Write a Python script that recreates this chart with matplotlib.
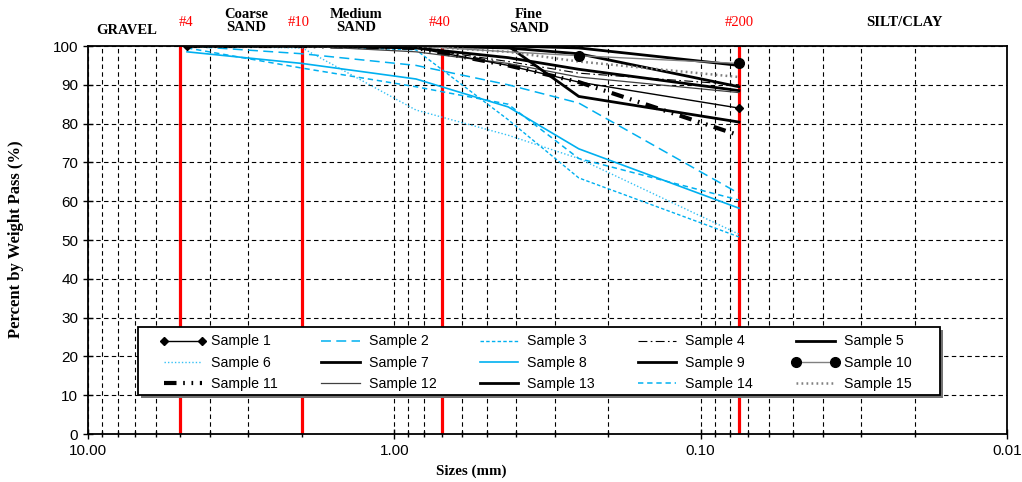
import numpy as np
import matplotlib
matplotlib.use("Agg")
import matplotlib.pyplot as plt
from matplotlib.lines import Line2D
from matplotlib.patches import Rectangle
from matplotlib.ticker import FixedLocator, LogLocator, NullFormatter, FuncFormatter

# sieve sizes (mm) used for every sample
sizes = [4.75, 2.0, 0.85, 0.425, 0.25, 0.075]

# percent passing
s1 = [100, 100, 99.5, 95.0, 90.7, 84.0]
s2 = [100, 98.0, 95.0, 90.0, 85.3, 62.0]
s3 = [100, 100, 99.0, 81.0, 66.0, 50.8]
s4 = [100, 100, 99.5, 96.0, 93.0, 90.0]
s5 = [100, 100, 100, 100, 99.5, 95.0]
s6 = [100, 99.5, 83.5, 77.0, 71.0, 51.5]
s7 = [100, 100, 99.5, 97.0, 94.0, 88.5]
s8 = [98.5, 95.5, 91.5, 84.3, 73.5, 58.2]
s9 = [100, 100, 100, 99.5, 98.0, 89.5]
s10 = [100, 100, 100, 98.5, 97.5, 95.5]
s11 = [100, 100, 99.5, 95.0, 90.7, 77.0]
s12 = [100, 100, 98.5, 95.5, 92.0, 88.0]
s13 = [100, 100, 100, 100, 87.0, 80.4]
s14 = [99.5, 94.3, 89.5, 85.0, 71.0, 60.3]
s15 = [100, 100, 100, 98.5, 96.0, 92.0]

# sieve marker lines (as drawn) and their labels
sieve_pos = [5.0, 2.0, 0.7, 0.075]
sieve_lab = ["#4", "#10", "#40", "#200"]

BLUE = "#00B0F0"

fig = plt.figure(figsize=(10.22, 4.82), dpi=100)
ax = fig.add_axes([88 / 1022, 1 - 434 / 482, (1007 - 88) / 1022, (434 - 46) / 482])

ax.set_xscale("log")
ax.set_xlim(10, 0.01)
ax.set_ylim(0, 100)

# grid
ax.xaxis.set_major_locator(FixedLocator([10, 1, 0.1, 0.01]))
ax.xaxis.set_minor_locator(LogLocator(base=10, subs=np.arange(2, 10)))
ax.xaxis.set_minor_formatter(NullFormatter())
ax.xaxis.set_major_formatter(FuncFormatter(lambda v, p: f"{v:.2f}"))
ax.set_yticks(np.arange(0, 101, 10))
ax.grid(True, which="both", axis="x", color="black", ls=(0, (4, 3)), lw=0.8)
ax.grid(True, which="major", axis="y", color="black", ls=(0, (4, 3)), lw=0.8)
ax.set_axisbelow(True)

for s in ax.spines.values():
    s.set_linewidth(1.3)

ax.tick_params(axis="both", which="major", direction="inout", length=7, width=1, labelsize=11)
ax.tick_params(axis="x", which="minor", direction="inout", length=5, width=1)
for lab in ax.get_xticklabels() + ax.get_yticklabels():
    lab.set_family("Liberation Sans")

# red sieve lines
for p in sieve_pos:
    ax.axvline(p, color="red", lw=2.3, zorder=1.5)

handles = {}
# blue samples
handles[2], = ax.plot(sizes, s2, color=BLUE, lw=1.1, ls=(0, (6.5, 3.5)))
handles[3], = ax.plot(sizes, s3, color=BLUE, lw=1.0, ls=(0, (2.5, 1.6)))
handles[6], = ax.plot(sizes, s6, color="#33C0F5", lw=1.0, ls=(0, (1, 1.5)))
handles[8], = ax.plot(sizes, s8, color=BLUE, lw=1.2)
handles[14], = ax.plot(sizes, s14, color=BLUE, lw=1.1, ls=(0, (3.5, 2.5)))

# black / grey samples
handles[4], = ax.plot(sizes, s4, color="black", lw=0.8, ls=(0, (8, 3, 1.5, 3)))
handles[5], = ax.plot(sizes, s5, color="black", lw=2.0)
handles[7], = ax.plot(sizes, s7, color="black", lw=2.0)
handles[9], = ax.plot(sizes, s9, color="black", lw=2.0)
handles[11], = ax.plot(sizes, s11, color="black", lw=3.0, ls=(0, (3, 1.6, 0.4, 1.6, 0.4, 1.6)))
handles[12], = ax.plot(sizes, s12, color="#404040", lw=0.9)
handles[13], = ax.plot(sizes, s13, color="black", lw=2.0)
handles[15], = ax.plot(sizes, s15, color="#808080", lw=1.8, ls=(0, (0.7, 1.3)))

ax.plot(sizes, s1, color="black", lw=1.0)
ax.plot(sizes[::5], s1[::5], ls="none", marker="D", ms=4.5, color="black")
handles[1] = Line2D([], [], color="black", lw=1.0, marker="D", ms=4.5)

ax.plot(sizes, s10, color="#808080", lw=1.0)
ax.plot(sizes[4:], s10[4:], ls="none", marker="o", ms=7, color="black")
handles[10] = Line2D([], [], color="#808080", lw=1.0, marker="o", ms=7,
                     markerfacecolor="black", markeredgecolor="black")

# legend box drawn by hand (wider side padding than matplotlib gives)
box = dict(transform=fig.transFigure, clip_on=False)
ax.add_patch(Rectangle((141 / 1022, 1 - 398 / 482), 802 / 1022, 68 / 482,
                       facecolor="0.45", edgecolor="none", zorder=4.8, **box))
ax.add_patch(Rectangle((138 / 1022, 1 - 395 / 482), 802 / 1022, 68 / 482,
                       facecolor="white", edgecolor="black", lw=1.3, zorder=4.9, **box))

order = [1, 6, 11, 2, 7, 12, 3, 8, 13, 4, 9, 14, 5, 10, 15]
leg = ax.legend([handles[i] for i in order], [f"Sample {i}" for i in order],
                ncol=5, numpoints=2, loc="upper left",
                bbox_to_anchor=(146 / 1022, 1 - 321 / 482), bbox_transform=fig.transFigure,
                prop={"family": "Liberation Sans", "size": 10.2},
                handlelength=3.3, handletextpad=0.35, columnspacing=2.75,
                labelspacing=0.5, borderpad=0.45, frameon=False)
leg.set_zorder(5)

# header texts
hdr = dict(family="Liberation Serif", weight="bold", size=10.5, ha="center",
           va="center", linespacing=1.05)
red = dict(family="Liberation Serif", size=10.5, color="red", ha="center", va="center")


def fx(px):
    return px / 1022


def fy(py):
    return 1 - py / 482


fig.text(fx(127), fy(30), "GRAVEL", **hdr)
fig.text(fx(246), fy(21), "Coarse\nSAND", **hdr)
fig.text(fx(356), fy(21), "Medium\nSAND", **hdr)
fig.text(fx(529), fy(21.5), "Fine\nSAND", **hdr)
fig.text(fx(904), fy(23), "SILT/CLAY", **hdr)
for lab, px in zip(sieve_lab, [186, 299, 440, 739]):
    fig.text(fx(px), fy(22), lab, **red)

fig.text(fx(16), fy(239), "Percent by Weight Pass (%)", rotation=90,
         family="Liberation Serif", weight="bold", size=12, ha="center", va="center")
fig.text(fx(471), fy(471), "Sizes (mm)", family="Liberation Serif", weight="bold",
         size=10.8, ha="center", va="center")

fig.savefig("out.png", dpi=100)
